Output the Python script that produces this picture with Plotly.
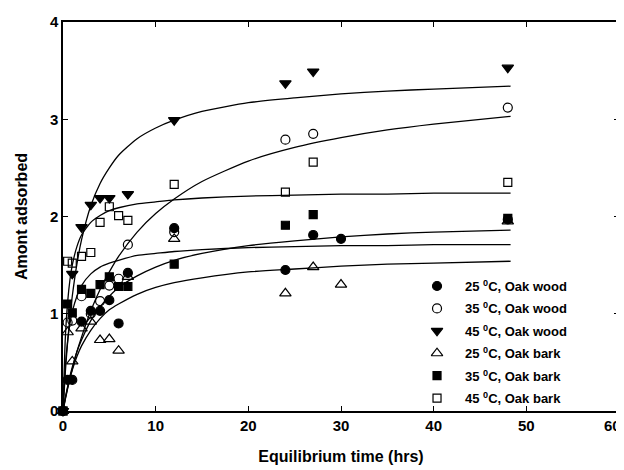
import plotly.graph_objects as go

# ---- data ----
t_wood25 = [0, 0.5, 1, 2, 3, 4, 5, 6, 7, 12, 24, 27, 30, 48]
q_wood25 = [0, 0.32, 0.32, 0.92, 1.03, 1.03, 1.14, 0.90, 1.42, 1.88, 1.45, 1.81, 1.77, 1.97]

t_wood35 = [0, 0.5, 1, 2, 3, 4, 5, 6, 7, 12, 24, 27, 48]
q_wood35 = [0, 0.91, 0.93, 1.18, 1.00, 1.13, 1.29, 1.36, 1.71, 1.84, 2.79, 2.85, 3.12]

t_wood45 = [0, 1, 2, 3, 4, 5, 7, 12, 24, 27, 48]
q_wood45 = [0, 1.41, 1.89, 2.12, 2.19, 2.19, 2.23, 2.99, 3.37, 3.49, 3.53]

t_bark25 = [0, 0.5, 1, 2, 3, 4, 5, 6, 7, 12, 24, 27, 30, 48]
q_bark25 = [0, 0.81, 0.51, 0.85, 0.92, 0.73, 0.74, 0.62, 1.38, 1.77, 1.21, 1.48, 1.30, 1.95]

t_bark35 = [0, 0.5, 1, 2, 3, 4, 5, 6, 7, 12, 24, 27, 48]
q_bark35 = [0, 1.10, 1.01, 1.25, 1.21, 1.30, 1.38, 1.28, 1.28, 1.51, 1.91, 2.02, 1.98]

t_bark45 = [0, 0.5, 1, 2, 3, 4, 5, 6, 7, 12, 24, 27, 48]
q_bark45 = [0, 1.54, 1.52, 1.59, 1.63, 1.94, 2.10, 2.01, 1.96, 2.33, 2.25, 2.56, 2.35]

# fitted curves
t_fit = [0, 0.25, 0.5, 0.75, 1, 1.5, 2, 3, 4, 5, 6, 8, 10, 12, 15, 20, 25, 30, 35, 40, 48.3]
fit_wood45 = [0, 0.40, 0.71, 0.97, 1.18, 1.51, 1.76, 2.11, 2.34, 2.50, 2.63, 2.80, 2.91, 2.99, 3.08, 3.17, 3.22, 3.26, 3.29, 3.31, 3.34]
fit_wood35 = [0, 0.12, 0.23, 0.33, 0.43, 0.61, 0.76, 1.03, 1.25, 1.43, 1.59, 1.84, 2.03, 2.18, 2.36, 2.57, 2.71, 2.81, 2.89, 2.95, 3.03]
fit_bark45 = [0, 0.75, 1.12, 1.35, 1.50, 1.69, 1.81, 1.94, 2.01, 2.06, 2.09, 2.13, 2.15, 2.17, 2.19, 2.21, 2.22, 2.23, 2.23, 2.24, 2.24]
fit_bark35 = [0, 0.46, 0.72, 0.90, 1.02, 1.18, 1.29, 1.41, 1.48, 1.52, 1.55, 1.60, 1.62, 1.64, 1.66, 1.68, 1.69, 1.70, 1.70, 1.71, 1.71]
fit_wood25 = [0, 0.14, 0.25, 0.36, 0.45, 0.61, 0.73, 0.93, 1.07, 1.18, 1.27, 1.39, 1.48, 1.55, 1.62, 1.70, 1.75, 1.79, 1.82, 1.84, 1.86]
fit_bark25 = [0, 0.13, 0.24, 0.34, 0.42, 0.56, 0.67, 0.83, 0.95, 1.04, 1.10, 1.20, 1.27, 1.32, 1.37, 1.43, 1.46, 1.49, 1.51, 1.52, 1.54]

x_ticks = [0, 10, 20, 30, 40, 50, 60]
y_ticks = [0, 1, 2, 3, 4]

labels = ["25 <sup>0</sup>C, Oak wood", "35 <sup>0</sup>C, Oak wood", "45 <sup>0</sup>C, Oak wood",
          "25 <sup>0</sup>C, Oak bark", "35 <sup>0</sup>C, Oak bark", "45 <sup>0</sup>C, Oak bark"]

fig = go.Figure()

for fy in [fit_wood45, fit_wood35, fit_bark45, fit_bark35, fit_wood25, fit_bark25]:
    fig.add_trace(go.Scatter(x=t_fit, y=fy, mode="lines", line=dict(color="black", width=1.3, shape="spline", smoothing=0.6),
                             showlegend=False, hoverinfo="skip", cliponaxis=False))

series = [
    (t_wood25, q_wood25, "circle", 9),
    (t_wood35, q_wood35, "circle-open", 9),
    (t_wood45, q_wood45, "triangle-down", 10),
    (t_bark25, q_bark25, "triangle-up-open", 10),
    (t_bark35, q_bark35, "square", 8),
    (t_bark45, q_bark45, "square-open", 8),
]
for (tx, qy, sym, sz), lab in zip(series, labels):
    fig.add_trace(go.Scatter(x=tx, y=qy, mode="markers", name=lab, cliponaxis=False, showlegend=False,
                             marker=dict(symbol=sym, size=sz, color="black", line=dict(color="black", width=1.2))))

# hand-placed legend (markers on an overlay unit axis, text as annotations)
leg_x_marker = 0.6727
leg_x_text = 0.7194
leg_y_top = 0.3213
leg_step = 0.0576
for i, ((tx, qy, sym, sz), lab) in enumerate(zip(series, labels)):
    yy = leg_y_top - i * leg_step
    fig.add_trace(go.Scatter(x=[leg_x_marker], y=[yy], xaxis="x2", yaxis="y2", mode="markers", showlegend=False,
                             hoverinfo="skip", cliponaxis=False,
                             marker=dict(symbol=sym, size=sz, color="black", line=dict(color="black", width=1.2))))
    fig.add_annotation(x=leg_x_text, y=yy, xref="paper", yref="paper", text="<b>" + lab + "</b>",
                       showarrow=False, xanchor="left", yanchor="middle",
                       font=dict(family="Liberation Sans, Arial", size=13, color="black"))

tick_font = dict(family="Liberation Sans, Arial", size=15, color="black", weight="bold")
axis_common = dict(showline=True, linecolor="black", linewidth=1.5, mirror="ticks", ticks="inside", ticklen=5,
                   tickwidth=1, tickcolor="black", showgrid=False, zeroline=False, automargin=False,
                   tickfont=tick_font)

# last x tick label sits at the right edge: place it right-aligned so it stays inside the page
x_ticktext = [str(v) for v in x_ticks[:-1]] + [""]
fig.add_annotation(x=x_ticks[-1], y=0, xref="x", yref="paper", text=str(x_ticks[-1]), showarrow=False,
                   xanchor="right", yanchor="top", xshift=4, yshift=-4, font=tick_font)

fig.update_layout(
    width=616, height=462,
    margin=dict(l=55, r=5, t=14, b=59),
    paper_bgcolor="white", plot_bgcolor="white",
    font=dict(family="Liberation Sans, Arial", color="black"),
    xaxis=dict(range=[0, 60], tickvals=x_ticks, ticktext=x_ticktext,
               title=dict(text="<b>Equilibrium time (hrs)</b>", font=dict(size=16), standoff=18), **axis_common),
    yaxis=dict(range=[0, 4], tickvals=y_ticks, ticktext=[str(v) for v in y_ticks],
               title=dict(text="<b>Amont adsorbed</b>", font=dict(size=16), standoff=18), **axis_common),
    xaxis2=dict(range=[0, 1], overlaying="x", visible=False, fixedrange=True),
    yaxis2=dict(range=[0, 1], overlaying="y", visible=False, fixedrange=True),
    showlegend=False,
)

fig.write_html("out.html")
